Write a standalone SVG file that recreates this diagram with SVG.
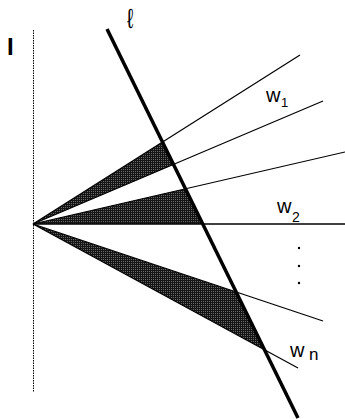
<svg xmlns="http://www.w3.org/2000/svg" width="345" height="419" viewBox="0 0 345 419">
<style>
.thin{stroke:#000;stroke-width:1.2;fill:none}
.lbl{font-family:"Liberation Sans",Arial,sans-serif;fill:#000}
</style>
<defs>
<pattern id="stip" width="2" height="2" patternUnits="userSpaceOnUse">
<rect width="2" height="2" fill="#151515"/>
<rect x="1" y="1" width="1" height="1" fill="#6a6a6a"/>
</pattern>
</defs>
<rect width="345" height="419" fill="#fff"/>
<g id="axis-I">
<line x1="33.5" y1="30" x2="33.5" y2="392" stroke="#000" stroke-width="1" stroke-dasharray="1.5,1"/>
<text class="lbl" x="7" y="55" font-size="24" font-weight="bold">I</text>
</g>
<g id="wedges">
<polygon points="33,224 162.5,142 173.5,164.4" fill="url(#stip)"/>
<polygon points="33,224 185.4,188.8 202.7,224" fill="url(#stip)"/>
<polygon points="33,224 236.1,291.9 264.4,349.8" fill="url(#stip)"/>
</g>
<g id="connectors">
<line class="thin" x1="33" y1="224" x2="300" y2="55"/>
<line class="thin" x1="33" y1="224" x2="323" y2="101"/>
<line class="thin" x1="33" y1="224" x2="345" y2="152"/>
<line x1="33" y1="224" x2="345" y2="224" stroke="#000" stroke-width="1.6"/>
<line class="thin" x1="33" y1="224" x2="323" y2="321"/>
<line class="thin" x1="33" y1="224" x2="298" y2="368"/>
</g>
<g id="line-l">
<line x1="107" y1="29" x2="298" y2="418" stroke="#000" stroke-width="3.5"/>
<text class="lbl" x="127" y="28" font-size="28" font-family="DejaVu Sans, sans-serif" transform="translate(127 0) scale(0.7 1) translate(-127 0)">ℓ</text>
</g>
<g id="label-w1">
<text class="lbl" x="266" y="102" font-size="20">w</text>
<text class="lbl" x="281" y="107" font-size="13">1</text>
</g>
<g id="label-w2">
<text class="lbl" x="277" y="213" font-size="20">w</text>
<text class="lbl" x="292" y="222" font-size="14">2</text>
</g>
<g id="dots">
<circle cx="299" cy="248" r="1.2"/>
<circle cx="299" cy="266" r="1.2"/>
<circle cx="299" cy="283" r="1.2"/>
</g>
<g id="label-wn">
<text class="lbl" x="290" y="357" font-size="20">w</text>
<text class="lbl" x="309" y="360" font-size="17">n</text>
</g>
</svg>
